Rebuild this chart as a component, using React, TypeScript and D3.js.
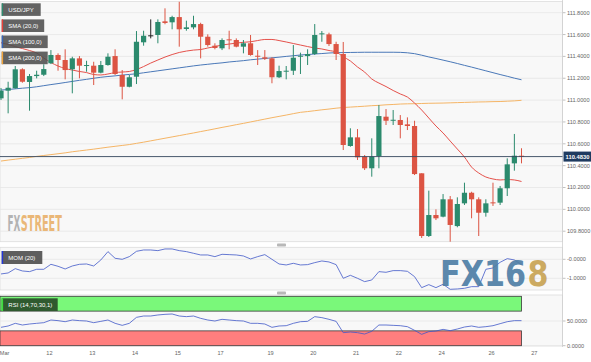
import React, { useEffect, useRef } from 'react';
import * as d3 from 'd3';

// 4h USD/JPY candles
const opens = [
  111.016, 111.086, 111.108, 111.282, 111.166, 111.220, 111.232, 111.337, 111.413, 111.367,
  111.282, 111.382, 111.315, 111.315, 111.251, 111.321, 111.403, 111.230, 111.122, 111.214,
  111.529, 111.593, 111.596, 111.721, 111.712, 111.760, 111.651, 111.666, 111.696, 111.580,
  111.498, 111.474, 111.556, 111.550, 111.489, 111.520, 111.406, 111.392, 111.382, 111.209,
  111.263, 111.269, 111.397, 111.403, 111.422, 111.602, 111.602, 111.513, 111.422, 110.580,
  110.659, 110.482, 110.376, 110.488, 110.848, 110.815, 110.818, 110.778, 110.763, 110.330,
  109.756, 109.948, 109.933, 110.092, 109.847, 110.055, 110.152, 110.092, 109.969, 110.064,
  110.061, 110.193, 110.421, 110.491,
];
const closes = [
  111.086, 111.113, 111.282, 111.168, 111.220, 111.232, 111.284, 111.413, 111.367, 111.275,
  111.382, 111.315, 111.321, 111.251, 111.321, 111.397, 111.239, 111.122, 111.209, 111.534,
  111.589, 111.593, 111.715, 111.706, 111.760, 111.648, 111.666, 111.696, 111.580, 111.504,
  111.477, 111.550, 111.550, 111.489, 111.520, 111.413, 111.397, 111.379, 111.209, 111.266,
  111.269, 111.388, 111.406, 111.422, 111.596, 111.611, 111.513, 111.422, 110.589, 110.659,
  110.476, 110.376, 110.482, 110.854, 110.811, 110.820, 110.772, 110.763, 110.323, 109.756,
  109.948, 109.918, 110.092, 109.857, 110.049, 110.152, 110.092, 109.969, 110.055, 110.058,
  110.193, 110.412, 110.491, 110.483,
];
const highs = [
  111.111, 111.168, 111.312, 111.291, 111.239, 111.269, 111.328, 111.458, 111.428, 111.465,
  111.397, 111.403, 111.360, 111.351, 111.358, 111.428, 111.465, 111.275, 111.230, 111.632,
  111.635, 111.739, 111.739, 111.840, 111.772, 111.900, 111.727, 111.772, 111.708, 111.602,
  111.520, 111.565, 111.635, 111.565, 111.550, 111.596, 111.458, 111.458, 111.392, 111.315,
  111.312, 111.504, 111.434, 111.465, 111.696, 111.632, 111.617, 111.534, 111.532, 110.742,
  110.735, 110.497, 110.650, 110.955, 110.918, 110.909, 110.863, 110.842, 110.811, 110.330,
  110.171, 110.000, 110.140, 110.122, 110.110, 110.244, 110.161, 110.110, 110.092, 110.244,
  110.214, 110.467, 110.690, 110.559,
];
const lows = [
  111.001, 110.879, 111.104, 111.159, 110.903, 111.199, 111.220, 111.330, 111.269, 111.190,
  111.062, 111.199, 111.260, 111.138, 111.245, 111.315, 111.230, 111.007, 111.117, 111.147,
  111.498, 111.565, 111.520, 111.694, 111.648, 111.489, 111.635, 111.648, 111.382, 111.489,
  111.465, 111.458, 111.465, 111.483, 111.428, 111.406, 111.321, 111.367, 111.154, 111.202,
  111.190, 111.230, 111.239, 111.321, 111.413, 111.534, 111.495, 111.367, 110.543, 110.573,
  110.452, 110.360, 110.299, 110.376, 110.772, 110.772, 110.650, 110.726, 110.314, 109.738,
  109.747, 109.902, 109.927, 109.704, 109.836, 110.040, 109.918, 109.756, 109.933, 110.031,
  110.040, 110.122, 110.354, 110.421,
];

const sma20 = [
  111.525, 111.509, 111.490, 111.472, 111.454, 111.431, 111.385, 111.344, 111.312, 111.289,
  111.275, 111.262, 111.252, 111.234, 111.230, 111.239, 111.252, 111.257, 111.262, 111.280,
  111.307, 111.339, 111.367, 111.394, 111.417, 111.436, 111.449, 111.458, 111.463, 111.477,
  111.490, 111.504, 111.513, 111.522, 111.529, 111.534, 111.545, 111.555, 111.555, 111.545,
  111.532, 111.518, 111.504, 111.490, 111.477, 111.468, 111.454, 111.440, 111.397, 111.358,
  111.303, 111.257, 111.193, 111.156, 111.124, 111.088, 111.056, 111.028, 110.973, 110.909,
  110.836, 110.763, 110.699, 110.625, 110.552, 110.479, 110.387, 110.333, 110.296, 110.278,
  110.269, 110.273, 110.269, 110.255,
];
const sma100 = [
  111.092, 111.097, 111.103, 111.109, 111.114, 111.122, 111.132, 111.142, 111.151, 111.161,
  111.171, 111.181, 111.190, 111.200, 111.209, 111.216, 111.222, 111.229, 111.235, 111.241,
  111.250, 111.259, 111.268, 111.277, 111.286, 111.295, 111.304, 111.313, 111.321, 111.328,
  111.335, 111.341, 111.349, 111.355, 111.361, 111.369, 111.375, 111.381, 111.387, 111.393,
  111.400, 111.406, 111.413, 111.417, 111.422, 111.426, 111.431, 111.434, 111.435, 111.436,
  111.437, 111.438, 111.438, 111.438, 111.438, 111.438, 111.437, 111.433, 111.425, 111.411,
  111.395, 111.381, 111.366, 111.351, 111.335, 111.318, 111.302, 111.285, 111.268, 111.251,
  111.234, 111.218, 111.201, 111.186,
];
const sma200 = [
  110.442, 110.451, 110.459, 110.467, 110.475, 110.485, 110.493, 110.501, 110.509, 110.517,
  110.527, 110.535, 110.543, 110.551, 110.560, 110.569, 110.577, 110.585, 110.593, 110.604,
  110.615, 110.627, 110.639, 110.651, 110.663, 110.675, 110.687, 110.699, 110.712, 110.724,
  110.737, 110.750, 110.762, 110.775, 110.787, 110.800, 110.813, 110.826, 110.839, 110.851,
  110.863, 110.876, 110.888, 110.895, 110.903, 110.911, 110.918, 110.926, 110.932, 110.936,
  110.940, 110.944, 110.949, 110.952, 110.957, 110.960, 110.964, 110.966, 110.967, 110.969,
  110.971, 110.972, 110.973, 110.975, 110.977, 110.979, 110.981, 110.983, 110.984, 110.986,
  110.987, 110.990, 110.993, 110.998,
];

const momentum = [
  -0.772, -0.719, -0.491, -0.614, -0.649, -0.526, -0.526, -0.263, -0.368, -0.509,
  -0.351, -0.263, -0.246, -0.351, -0.035, 0.404, 0.053, 0.0, 0.140, 0.421,
  0.491, 0.491, 0.456, 0.544, 0.544, 0.456, 0.404, 0.316, 0.228, 0.228,
  0.140, 0.263, 0.246, 0.228, 0.175, 0.018, 0.140, 0.246, 0.0, -0.246,
  -0.298, -0.211, -0.298, -0.281, -0.175, -0.088, -0.140, -0.281, -1.000, -0.842,
  -1.000, -1.175, -1.088, -0.649, -0.684, -0.596, -0.596, -0.632, -0.912, -1.491,
  -1.333, -1.491, -1.316, -1.579, -1.561, -1.526, -1.439, -1.439, -0.526, -0.456,
  -0.158, 0.035, -0.035, -0.281,
];
const rsi = [
  37.2, 39.9, 45.3, 41.9, 43.9, 45.3, 46.6, 52.0, 50.7, 48.6,
  52.0, 50.7, 50.0, 46.6, 49.3, 52.0, 45.3, 41.2, 45.3, 57.4,
  60.1, 60.1, 62.2, 63.5, 64.2, 60.1, 58.8, 60.1, 55.4, 52.0,
  50.0, 53.4, 52.0, 50.7, 50.0, 45.3, 45.3, 43.9, 37.2, 39.9,
  40.5, 45.3, 48.6, 49.3, 58.8, 56.8, 53.4, 49.3, 26.4, 27.7,
  26.4, 23.6, 29.1, 41.9, 41.9, 41.2, 40.5, 38.5, 31.1, 23.0,
  28.4, 29.7, 33.1, 30.4, 33.8, 37.8, 39.9, 37.2, 38.5, 40.5,
  44.6, 48.6, 50.7, 50.7,
];

// day labels and the candle index each day starts at
const dayLabels = ['Mar', '12', '13', '14', '15', '17', '19', '20', '21', '22', '24', '26', '27'];
const dayStarts = [0.7, 7, 13, 19, 25, 31, 38, 44, 50, 56, 62, 69, 75];

const priceTicks = [109.8, 110.0, 110.2, 110.4, 110.6, 110.8, 111.0, 111.2, 111.4, 111.6, 111.8];
const momTicks = [0, -1];
const rsiTicks = [0, 50];
const lastPrice = 110.483;

const legend = [
  { text: 'USD/JPY', color: '#2e8b6e', w: 39 },
  { text: 'SMA (20,0)', color: '#e8413a', w: 42.5 },
  { text: 'SMA (100,0)', color: '#3866b8', w: 46 },
  { text: 'SMA (200,0)', color: '#f2a43a', w: 46 },
];

const App: React.FC = () => {
  const svgRef = useRef<SVGSVGElement>(null);

  useEffect(() => {
    if (!svgRef.current) return;
    const svg = d3.select(svgRef.current);
    svg.selectAll('*').remove();

    const W = 591;
    const axisX = 562.5;
    const font = '"Liberation Sans", Arial, sans-serif';

    const x = d3.scaleLinear().domain([0, 73]).range([1, 521.5]);
    const y = d3.scaleLinear().domain([109.8, 111.8]).range([231.2, 12.7]);
    const yMom = d3.scaleLinear().domain([-1, 0]).range([278.3, 259.3]);
    const yRsi = d3.scaleLinear().domain([0, 100]).range([345.7, 296.3]);

    svg.append('rect').attr('width', W).attr('height', 362).attr('fill', '#ffffff');

    // panels
    const panels = [
      { y0: 1.5, y1: 241.7 },
      { y0: 247.3, y1: 290 },
      { y0: 295, y1: 346 },
    ];
    panels.forEach(p => {
      svg.append('rect')
        .attr('x', 0).attr('y', p.y0)
        .attr('width', axisX).attr('height', p.y1 - p.y0)
        .attr('fill', '#f8f8f8')
        .attr('stroke', '#dcdcdc').attr('stroke-width', 0.8);
    });
    // resize handles between panels
    [243.6, 291.6].forEach(hy => {
      svg.append('rect')
        .attr('x', 277).attr('y', hy).attr('width', 9).attr('height', 3)
        .attr('rx', 0.8).attr('fill', '#b8b8b8');
    });

    const axisText = (tx: number, ty: number, s: string) =>
      svg.append('text')
        .attr('x', tx).attr('y', ty).attr('dy', '0.35em')
        .attr('fill', '#666').style('font-family', font).style('font-size', '5.6px')
        .text(s);

    // price grid + labels
    priceTicks.forEach(t => {
      svg.append('line')
        .attr('x1', 0).attr('x2', axisX).attr('y1', y(t)).attr('y2', y(t))
        .attr('stroke', '#e6e6e6').attr('stroke-width', 0.8);
      svg.append('line')
        .attr('x1', axisX).attr('x2', axisX + 3).attr('y1', y(t)).attr('y2', y(t))
        .attr('stroke', '#999').attr('stroke-width', 0.6);
      axisText(axisX + 4.5, y(t), t.toFixed(4));
    });

    // momentum grid
    momTicks.forEach(t => {
      svg.append('line')
        .attr('x1', 0).attr('x2', axisX).attr('y1', yMom(t)).attr('y2', yMom(t))
        .attr('stroke', '#e6e6e6').attr('stroke-width', 0.8);
      svg.append('line')
        .attr('x1', axisX).attr('x2', axisX + 3).attr('y1', yMom(t)).attr('y2', yMom(t))
        .attr('stroke', '#999').attr('stroke-width', 0.6);
      axisText(axisX + 4.5, yMom(t), (t <= 0 ? '-' : '') + Math.abs(t).toFixed(4));
    });

    // rsi grid
    rsiTicks.forEach(t => {
      svg.append('line')
        .attr('x1', 0).attr('x2', axisX).attr('y1', yRsi(t)).attr('y2', yRsi(t))
        .attr('stroke', '#e6e6e6').attr('stroke-width', 0.8);
      svg.append('line')
        .attr('x1', axisX).attr('x2', axisX + 3).attr('y1', yRsi(t)).attr('y2', yRsi(t))
        .attr('stroke', '#999').attr('stroke-width', 0.6);
      axisText(axisX + 4.5, yRsi(t), t.toFixed(4));
    });

    // right axis line
    svg.append('line')
      .attr('x1', axisX).attr('x2', axisX).attr('y1', 0).attr('y2', 347)
      .attr('stroke', '#cfcfcf').attr('stroke-width', 0.8);

    // day labels
    dayLabels.forEach((d, i) => {
      svg.append('text')
        .attr('x', x(dayStarts[i] - 0.2)).attr('y', 355)
        .attr('text-anchor', 'middle')
        .attr('fill', '#666').style('font-family', font).style('font-size', '5.6px')
        .text(d);
    });

    // watermark FXSTREET (two separate words so they keep their own widths)
    const condensed = '"DejaVu Sans Condensed", "Liberation Sans Narrow", sans-serif';
    svg.append('text')
      .attr('x', 7.5).attr('y', 230.5)
      .attr('textLength', 12.8).attr('lengthAdjust', 'spacingAndGlyphs')
      .attr('fill', '#b3b3b3')
      .style('font-family', condensed).style('font-size', '21px').style('font-weight', 'bold')
      .text('FX');
    svg.append('text')
      .attr('x', 20.8).attr('y', 230.5)
      .attr('textLength', 41).attr('lengthAdjust', 'spacingAndGlyphs')
      .attr('fill', '#eab777')
      .style('font-family', condensed).style('font-size', '21px').style('font-weight', 'bold')
      .text('STREET');

    // sma lines
    const idx = d3.range(opens.length);
    const lineOf = (vals: number[]) => d3.line<number>()
      .x(i => x(i)).y(i => y(vals[i])).curve(d3.curveMonotoneX)(idx);
    [
      { v: sma200, c: '#f5b566' },
      { v: sma100, c: '#4a78b8' },
      { v: sma20, c: '#e5514b' },
    ].forEach(s => {
      svg.append('path').attr('d', lineOf(s.v) as string)
        .attr('fill', 'none').attr('stroke', s.c).attr('stroke-width', 1);
    });

    // candles
    const up = '#2b8a6d';
    const down = '#dc5443';
    idx.forEach(i => {
      const o = opens[i], c = closes[i];
      const col = c > o ? up : c < o ? down : '#222';
      svg.append('line')
        .attr('x1', x(i)).attr('x2', x(i))
        .attr('y1', y(highs[i])).attr('y2', y(lows[i]))
        .attr('stroke', col).attr('stroke-width', 1);
      const top = y(Math.max(o, c));
      const h = Math.max(1, Math.abs(y(o) - y(c)));
      svg.append('rect')
        .attr('x', x(i) - 2.6).attr('y', top)
        .attr('width', 5.2).attr('height', h)
        .attr('fill', col);
    });

    // last price line and tag
    svg.append('line')
      .attr('x1', 0).attr('x2', axisX).attr('y1', y(lastPrice)).attr('y2', y(lastPrice))
      .attr('stroke', '#34465e').attr('stroke-width', 0.9);
    svg.append('rect')
      .attr('x', axisX + 1).attr('y', y(lastPrice) - 5)
      .attr('width', 28).attr('height', 10).attr('fill', '#1f3b60');
    svg.append('text')
      .attr('x', axisX + 3).attr('y', y(lastPrice)).attr('dy', '0.35em')
      .attr('fill', '#fff').style('font-family', font).style('font-size', '5.8px')
      .style('font-weight', 'bold')
      .text(lastPrice.toFixed(4));

    // legend boxes
    legend.forEach((l, i) => {
      const by = 3.3 + i * 16.1;
      svg.append('rect')
        .attr('x', 1.7).attr('y', by).attr('width', l.w).attr('height', 12.6)
        .attr('fill', '#4d4d4d').attr('opacity', 0.88);
      svg.append('rect')
        .attr('x', 1.7).attr('y', by).attr('width', 1.4).attr('height', 12.6)
        .attr('fill', l.color);
      svg.append('text')
        .attr('x', 8.3).attr('y', by + 6.3).attr('dy', '0.35em')
        .attr('fill', '#fff').style('font-family', font).style('font-size', '6px')
        .text(l.text);
    });

    // momentum line
    svg.append('path')
      .attr('d', d3.line<number>().x(i => x(i)).y(i => yMom(momentum[i]))(idx) as string)
      .attr('fill', 'none').attr('stroke', '#4058c8').attr('stroke-width', 0.8);

    // FX168 watermark over the momentum panel
    const wmFont = '"DejaVu Sans", sans-serif';
    svg.append('text')
      .attr('x', 440).attr('y', 285.5)
      .attr('textLength', 86).attr('lengthAdjust', 'spacingAndGlyphs')
      .attr('fill', '#4f7fa6').attr('opacity', 0.92)
      .style('font-family', wmFont).style('font-size', '35px').style('font-weight', 'bold')
      .text('FX16');
    svg.append('text')
      .attr('x', 527.5).attr('y', 285.5)
      .attr('textLength', 21).attr('lengthAdjust', 'spacingAndGlyphs')
      .attr('fill', '#c9a455').attr('opacity', 0.92)
      .style('font-family', wmFont).style('font-size', '35px').style('font-weight', 'bold')
      .text('8');

    svg.append('rect')
      .attr('x', 1.7).attr('y', 251).attr('width', 40.6).attr('height', 13)
      .attr('fill', '#4d4d4d').attr('opacity', 0.9);
    svg.append('rect')
      .attr('x', 1.7).attr('y', 251).attr('width', 1.4).attr('height', 13).attr('fill', '#2436d8');
    svg.append('text')
      .attr('x', 8.3).attr('y', 257.5).attr('dy', '0.35em')
      .attr('fill', '#fff').style('font-family', font).style('font-size', '6px')
      .text('MOM (20)');

    // RSI bands and line
    const xEnd = x(73);
    svg.append('rect')
      .attr('x', 0).attr('y', yRsi(100)).attr('width', xEnd).attr('height', yRsi(70) - yRsi(100))
      .attr('fill', '#7af87a').attr('stroke', '#3a3a3a').attr('stroke-width', 0.8);
    svg.append('rect')
      .attr('x', 0).attr('y', yRsi(30)).attr('width', xEnd).attr('height', yRsi(0) - yRsi(30))
      .attr('fill', '#ff7e7e').attr('stroke', '#3a3a3a').attr('stroke-width', 0.8);
    svg.append('path')
      .attr('d', d3.line<number>().x(i => x(i)).y(i => yRsi(rsi[i]))(idx) as string)
      .attr('fill', 'none').attr('stroke', '#4058c8').attr('stroke-width', 0.8);

    svg.append('rect')
      .attr('x', 1.7).attr('y', 298.3).attr('width', 56).attr('height', 12.7)
      .attr('fill', '#2f5a2f');
    svg.append('rect')
      .attr('x', 1.7).attr('y', 298.3).attr('width', 1.4).attr('height', 12.7).attr('fill', '#3ddc3d');
    svg.append('text')
      .attr('x', 8.3).attr('y', 304.6).attr('dy', '0.35em')
      .attr('fill', '#fff').style('font-family', font).style('font-size', '6px')
      .text('RSI (14,70,30,1)');
  }, []);

  return (
    <svg
      ref={svgRef}
      width={591}
      height={362}
      viewBox="0 0 591 362"
      style={{ position: 'absolute', left: 0, top: 0, display: 'block' }}
    />
  );
};

export default App;
